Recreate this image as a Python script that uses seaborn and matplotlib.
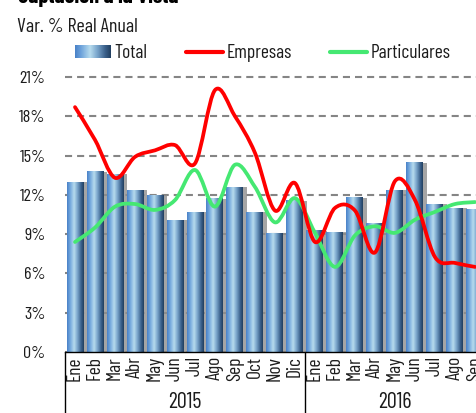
import numpy as np
import matplotlib
matplotlib.use('Agg')
import matplotlib.pyplot as plt
import seaborn as sns
import matplotlib.patheffects as pe
import matplotlib.transforms as mtransforms
from matplotlib.path import Path
from matplotlib.patches import PathPatch
from matplotlib.colors import LinearSegmentedColormap
from matplotlib.lines import Line2D

# datos (var. % real anual)
meses = ['Ene', 'Feb', 'Mar', 'Abr', 'May', 'Jun', 'Jul', 'Ago', 'Sep', 'Oct', 'Nov', 'Dic',
         'Ene', 'Feb', 'Mar', 'Abr', 'May', 'Jun', 'Jul', 'Ago', 'Sep']
anios = ['2015'] * 12 + ['2016'] * 9
total = [13.0, 13.8, 13.6, 12.4, 12.0, 10.1, 10.7, 11.75, 12.6, 10.7, 9.1, 11.6,
         9.3, 9.2, 11.8, 9.85, 12.4, 14.5, 11.3, 11.0, 10.9]
empresas = [18.7, 16.2, 13.3, 14.9, 15.4, 15.8, 14.4, 20.0, 18.0, 15.2, 10.8, 12.9,
            8.4, 11.0, 10.8, 7.6, 13.05, 11.6, 7.25, 6.8, 6.5]
particulares = [8.4, 9.5, 11.1, 11.3, 10.85, 11.6, 13.9, 11.1, 14.3, 12.6, 9.9, 11.75,
                9.1, 6.5, 8.9, 9.6, 9.1, 10.1, 10.7, 11.3, 11.45]
yticks = [0, 3, 6, 9, 12, 15, 18, 21]

sns.set_style('white')
plt.rcParams['font.family'] = ['Barlow Condensed', 'Roboto Condensed', 'DejaVu Sans']
txt_col = '#1c1c1c'

W, H = 476, 413
fig = plt.figure(figsize=(W / 100, H / 100), dpi=100)
ymax = 21.5
ax_h = 275 * ymax / 21
ax = fig.add_axes([65 / W, 61 / H, 420 / W, ax_h / H])

x = np.arange(len(meses))
sns.barplot(x=x, y=total, color='#6a9fd8', width=0.85, ax=ax, zorder=2, edgecolor='none')

# degradado tipo cilindro sobre cada barra
cmap = LinearSegmentedColormap.from_list('cil', [
    (0.0, '#4a82c8'), (0.15, '#6aa0da'), (0.42, '#b7dcee'),
    (0.62, '#7aa6cc'), (0.85, '#3a5f8a'), (1.0, '#213f60')])
grad = np.linspace(0, 1, 64).reshape(1, -1)
for bar in list(ax.patches):
    bar.set_path_effects([pe.SimplePatchShadow(offset=(2.6, -0.3), shadow_rgbFace='#8f8f8f', alpha=0.8),
                          pe.Normal()])
    bx, bw, bh = bar.get_x(), bar.get_width(), bar.get_height()
    im = ax.imshow(grad, extent=[bx, bx + bw, 0, bh], aspect='auto', cmap=cmap,
                   zorder=2.1, interpolation='bilinear')
    im.set_clip_path(bar)


def curva_suave(xs, ys):
    # Catmull-Rom -> Bezier (como la linea suavizada de Excel)
    pts = np.column_stack([xs, ys]).astype(float)
    verts = [pts[0]]
    codes = [Path.MOVETO]
    n = len(pts)
    for i in range(n - 1):
        p0 = pts[max(i - 1, 0)]
        p1 = pts[i]
        p2 = pts[i + 1]
        p3 = pts[min(i + 2, n - 1)]
        c1 = p1 + (p2 - p0) / 6
        c2 = p2 - (p3 - p1) / 6
        verts += [c1, c2, p2]
        codes += [Path.CURVE4] * 3
    return Path(verts, codes)


for serie, col in [(particulares, '#45e872'), (empresas, '#ff0000')]:
    patch = PathPatch(curva_suave(x, serie), facecolor='none', edgecolor=col,
                      lw=2.7, capstyle='round', joinstyle='round', zorder=4)
    ax.add_patch(patch)

ax.set_xlim(-0.5, len(meses) - 0.5)
ax.set_ylim(0, ymax)
ax.set_yticks(yticks)
ax.set_yticklabels([f'{v}%' for v in yticks], fontsize=13, color=txt_col)
ax.set_xticks(x)
ax.set_xticklabels(meses, rotation=90, fontsize=14, color=txt_col)
ax.tick_params(axis='both', length=0)
ax.tick_params(axis='y', pad=14)
ax.tick_params(axis='x', pad=3)
ax.set_axisbelow(True)
ax.grid(axis='y', linestyle=(0, (3.4, 2.4)), linewidth=1.5, color='#858585')
ax.grid(axis='x', visible=False)
for s in ['top', 'right', 'left']:
    ax.spines[s].set_visible(False)
ax.spines['bottom'].set_color('black')
ax.spines['bottom'].set_linewidth(1)
ax.spines['bottom'].set_zorder(5)

# separadores y etiquetas de anio
trans = mtransforms.blended_transform_factory(ax.transData, ax.transAxes)
y_bot = -61 / ax_h
for xs in [-0.5, 11.5]:
    ax.add_line(Line2D([xs, xs], [0, y_bot], transform=trans, color='black', lw=1, clip_on=False))
for anio in ['2015', '2016']:
    idx = [i for i, a in enumerate(anios) if a == anio]
    ax.text((idx[0] + idx[-1]) / 2, -51 / ax_h, anio, transform=trans, ha='center', va='center',
            fontsize=16, color=txt_col)

# titulos
fig.text(18 / W, 1 - 3 / H, 'Captación a la Vista', fontsize=16, fontweight='bold',
         ha='left', va='baseline', color='black')
fig.text(17 / W, 1 - 32 / H, 'Var. % Real Anual', fontsize=14.5, ha='left', va='baseline',
         color=txt_col)

# leyenda manual
lax = fig.add_axes([75 / W, 1 - 58 / H, 36 / W, 13 / H])
lax.imshow(grad, aspect='auto', cmap=cmap, interpolation='bilinear')
lax.axis('off')
ly = 1 - 52 / H
fig.text(114 / W, 1 - 58 / H, 'Total', fontsize=14, ha='left', va='baseline', color=txt_col)
fig.add_artist(Line2D([186 / W, 223 / W], [ly, ly], color='#ff0000', lw=3, transform=fig.transFigure))
fig.text(227 / W, 1 - 58 / H, 'Empresas', fontsize=14, ha='left', va='baseline', color=txt_col)
fig.add_artist(Line2D([330 / W, 367 / W], [ly, ly], color='#45e872', lw=3, transform=fig.transFigure))
fig.text(371 / W, 1 - 58 / H, 'Particulares', fontsize=14, ha='left', va='baseline', color=txt_col)

fig.savefig('out.png', dpi=100)
